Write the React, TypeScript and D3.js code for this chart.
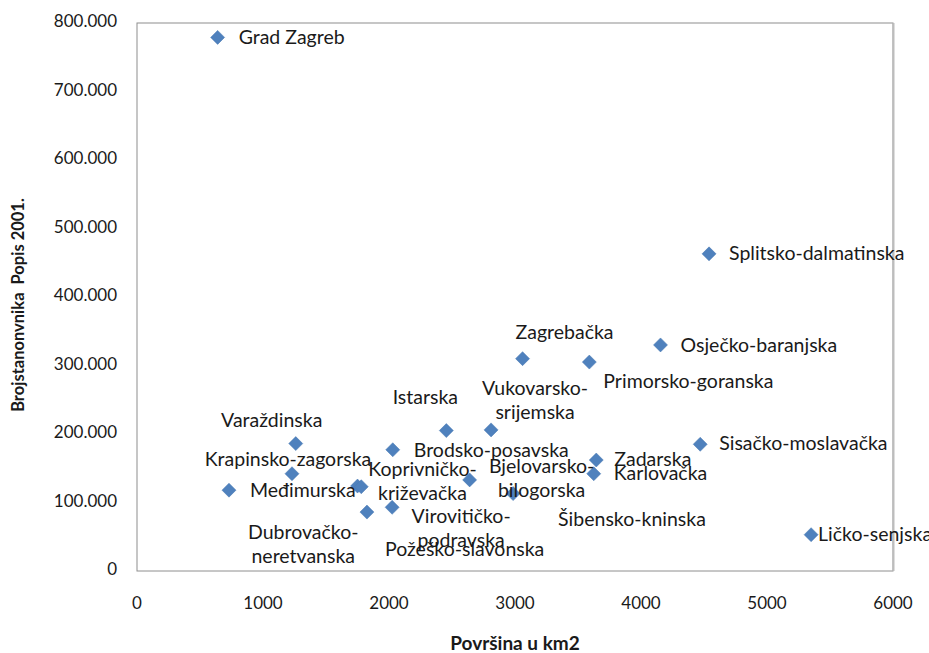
import React, { useEffect, useRef } from "react";
import * as d3 from "d3";

const WIDTH = 929;
const HEIGHT = 653;

// counties (area km2, population 2001)
const counties = [
  "Grad Zagreb", "Zagrebačka", "Krapinsko-zagorska", "Sisačko-moslavačka", "Karlovačka",
  "Varaždinska", "Koprivničko-križevačka", "Bjelovarsko-bilogorska", "Primorsko-goranska",
  "Ličko-senjska", "Virovitičko-podravska", "Požeško-slavonska", "Brodsko-posavska",
  "Zadarska", "Osječko-baranjska", "Šibensko-kninska", "Vukovarsko-srijemska",
  "Splitsko-dalmatinska", "Istarska", "Dubrovačko-neretvanska", "Međimurska",
];
const area = [
  640, 3060, 1230, 4470, 3625, 1260, 1750, 2640, 3590, 5350, 2025, 1825, 2030, 3645, 4155,
  2985, 2810, 4540, 2455, 1780, 730,
];
const population = [
  779000, 310000, 142000, 185000, 142000, 186000, 124000, 133000, 305000, 53000, 93000,
  86000, 177000, 162000, 330000, 113000, 206000, 463000, 205000, 123000, 118000,
];
const xTicks = [0, 1000, 2000, 3000, 4000, 5000, 6000];
const yTicks = [0, 100000, 200000, 300000, 400000, 500000, 600000, 700000, 800000];

// label placement relative to the marker: [anchor, dx, dy of first line]
const labelPos = {
  "Grad Zagreb": ["start", 21, 2],
  "Zagrebačka": ["middle", 42, -25],
  "Krapinsko-zagorska": ["middle", -4, -13],
  "Sisačko-moslavačka": ["start", 19, 1],
  "Karlovačka": ["start", 20, 1],
  "Varaždinska": ["middle", -24, -22],
  "Koprivničko-križevačka": ["middle", 65, -15],
  "Bjelovarsko-bilogorska": ["middle", 72, -12],
  "Primorsko-goranska": ["start", 14, 21],
  "Ličko-senjska": ["start", 7, 1],
  "Virovitičko-podravska": ["middle", 69, 11],
  "Požeško-slavonska": ["start", 18, 39],
  "Brodsko-posavska": ["start", 21, 2],
  "Zadarska": ["start", 18, 1],
  "Osječko-baranjska": ["start", 20, 2],
  "Šibensko-kninska": ["start", 45, 27],
  "Vukovarsko-srijemska": ["middle", 44, -40],
  "Splitsko-dalmatinska": ["start", 20, 1],
  "Istarska": ["middle", -21, -32],
  "Dubrovačko-neretvanska": ["middle", -58, 47],
  "Međimurska": ["start", 21, 2],
};
const wrapped = [
  "Koprivničko-križevačka", "Bjelovarsko-bilogorska", "Virovitičko-podravska",
  "Vukovarsko-srijemska", "Dubrovačko-neretvanska",
];

const App = () => {
  const ref = useRef(null);
  useEffect(() => {
    const MARGIN = { top: 23, right: 36, bottom: 82, left: 137 };
    const FONT = "Lato, 'Open Sans', sans-serif";
    const x = d3.scaleLinear().domain([0, 6000]).range([MARGIN.left, WIDTH - MARGIN.right]);
    const y = d3.scaleLinear().domain([0, 800000]).range([HEIGHT - MARGIN.bottom, MARGIN.top]);
    const fmt = d3.formatLocale({ decimal: ",", thousands: ".", grouping: [3], currency: ["", ""] }).format(",d");

    const svg = d3.select(ref.current);
    svg.selectAll("*").remove();
    svg.append("rect").attr("width", WIDTH).attr("height", HEIGHT).attr("fill", "#fff");

    // plot frame
    svg
      .append("rect")
      .attr("x", x(0))
      .attr("y", y(800000))
      .attr("width", x(6000) - x(0))
      .attr("height", y(0) - y(800000))
      .attr("fill", "none")
      .attr("stroke", "#8e8e8e");
    svg
      .append("line")
      .attr("x1", x(6000) + 0.5)
      .attr("x2", x(6000) + 0.5)
      .attr("y1", y(800000))
      .attr("y2", y(0))
      .attr("stroke", "#bdbdbd")
      .attr("stroke-width", 2);

    // tick labels
    svg
      .append("g")
      .selectAll("text")
      .data(xTicks)
      .join("text")
      .attr("x", (d) => x(d))
      .attr("y", 605)
      .attr("text-anchor", "middle")
      .attr("dominant-baseline", "middle")
      .attr("font-family", FONT)
      .attr("font-size", 17)
      .attr("fill", "#1a1a1a")
      .text((d) => d);
    svg
      .append("g")
      .selectAll("text")
      .data(yTicks)
      .join("text")
      .attr("x", 117)
      .attr("y", (d) => y(d))
      .attr("text-anchor", "end")
      .attr("dominant-baseline", "middle")
      .attr("font-family", FONT)
      .attr("font-size", 17)
      .attr("fill", "#1a1a1a")
      .text((d) => fmt(d));

    // axis titles
    svg
      .append("text")
      .attr("x", 515)
      .attr("y", 645)
      .attr("text-anchor", "middle")
      .attr("dominant-baseline", "middle")
      .attr("font-family", FONT)
      .attr("font-size", 19)
      .attr("font-weight", "bold")
      .attr("fill", "#1a1a1a")
      .text("Površina u km2");
    svg
      .append("text")
      .attr("transform", "translate(20,305) rotate(-90)")
      .attr("text-anchor", "middle")
      .attr("dominant-baseline", "middle")
      .attr("font-family", FONT)
      .attr("font-size", 16.5)
      .attr("font-weight", "bold")
      .attr("fill", "#1a1a1a")
      .attr("xml:space", "preserve")
      .text("Brojstanonvnika  Popis 2001.");

    // markers: square rotated 45deg gives an even diamond
    const diamond = d3.symbol().type(d3.symbolSquare).size(98);
    svg
      .append("g")
      .selectAll("path")
      .data(counties)
      .join("path")
      .attr("transform", (d, i) => `translate(${x(area[i])},${y(population[i])}) rotate(45)`)
      .attr("d", diamond)
      .attr("fill", "#4f81bd")
      .attr("stroke", "#4a7ab3")
      .attr("stroke-width", 0.5);

    // data labels
    const labels = svg
      .append("g")
      .selectAll("text")
      .data(counties)
      .join("text")
      .attr("text-anchor", (d) => labelPos[d][0])
      .attr("font-family", FONT)
      .attr("font-size", 19.5)
      .attr("fill", "#1a1a1a")
      .attr("dominant-baseline", "middle");
    labels.each(function (d, i) {
      const [, dx, dy] = labelPos[d];
      const px = x(area[i]) + dx;
      const py = y(population[i]) + dy;
      const parts = wrapped.includes(d) ? [d.slice(0, d.indexOf("-") + 1), d.slice(d.indexOf("-") + 1)] : [d];
      d3.select(this)
        .selectAll("tspan")
        .data(parts)
        .join("tspan")
        .attr("x", px)
        .attr("y", (p, j) => py + j * 24)
        .text((p) => p);
    });
  }, []);

  return (
    <svg
      ref={ref}
      width={WIDTH}
      height={HEIGHT}
      style={{ position: "absolute", left: 0, top: 0 }}
    />
  );
};

export default App;
